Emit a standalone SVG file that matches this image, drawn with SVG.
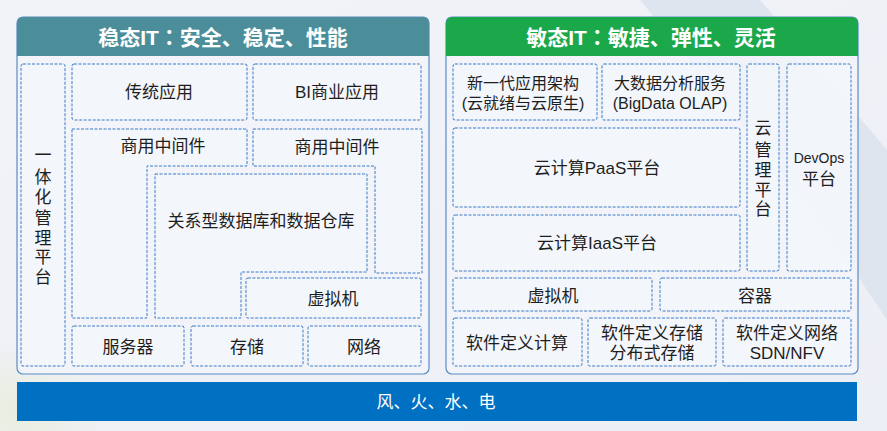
<svg xmlns="http://www.w3.org/2000/svg" width="887" height="431" viewBox="0 0 887 431">
<defs>
<linearGradient id="bg" x1="0" y1="0" x2="1" y2="1">
<stop offset="0" stop-color="#f1f3f8"/>
<stop offset="1" stop-color="#eceff5"/>
</linearGradient>
<radialGradient id="gr" cx="0.5" cy="0.5" r="0.5">
<stop offset="0" stop-color="#e9eedf"/>
<stop offset="1" stop-color="#e9eedf" stop-opacity="0"/>
</radialGradient>
<style>
.panel{fill:#f2f5fa;fill-opacity:0.85;stroke:#5b8cc8;stroke-width:1.2}
.box{fill:#f4f6fb;fill-opacity:0.7;stroke:#3a7bc6;stroke-width:1;stroke-dasharray:3 1.5}
.t{font-family:"Liberation Sans","Noto Sans CJK SC",sans-serif;font-size:17px;fill:#1e1e1e;text-anchor:middle}
.s{font-size:16px}
.h{font-family:"Liberation Sans","Noto Sans CJK SC",sans-serif;font-size:21px;font-weight:bold;fill:#ffffff;text-anchor:middle}
.c{font-family:"Noto Sans CJK TC",sans-serif}
</style>
</defs>
<rect x="0" y="0" width="887" height="431" fill="url(#bg)"/>
<polygon points="640,0 760,0 887,150 887,320 820,220" fill="#d9e0ed" opacity="0.7"/>
<ellipse cx="20" cy="410" rx="90" ry="70" fill="url(#gr)"/>

<g id="stable">
<rect class="panel" x="17" y="17" width="412" height="357" rx="6"/>
<path d="M17,56 V23 a6,6 0 0 1 6,-6 H423 a6,6 0 0 1 6,6 V56 Z" fill="#4b8e99"/>
<text class="h" x="223" y="45">稳态IT<tspan class="c">：</tspan>安全、稳定、性能</text>
</g>
<g id="stable-mgmt">
<rect class="box" x="21" y="64" width="44" height="302" rx="2"/>
<text class="t" x="43" y="161">一</text>
<text class="t" x="43" y="183">体</text>
<text class="t" x="43" y="203">化</text>
<text class="t" x="43" y="224">管</text>
<text class="t" x="43" y="244">理</text>
<text class="t" x="43" y="263">平</text>
<text class="t" x="43" y="283">台</text>
</g>
<g id="trad-app">
<rect class="box" x="72" y="64" width="175" height="56" rx="2"/>
<text class="t" x="159" y="98">传统应用</text>
</g>
<g id="bi-app">
<rect class="box" x="253" y="64" width="168" height="56" rx="2"/>
<text class="t" x="337" y="98">BI商业应用</text>
</g>
<g id="mw-left">
<path class="box" d="M72,129 H247 V166 H147 V318 H72 Z"/>
<text class="t" x="163" y="152">商用中间件</text>
</g>
<g id="mw-right">
<path class="box" d="M253,129 H422 V273 H375 V166 H253 Z"/>
<text class="t" x="337" y="153">商用中间件</text>
</g>
<g id="db">
<path class="box" d="M155,174 H367 V272 H241 V318 H155 Z"/>
<text class="t" x="261" y="227">关系型数据库和数据仓库</text>
</g>
<g id="vm-left">
<rect class="box" x="246" y="278" width="175" height="40" rx="2"/>
<text class="t" x="333" y="305">虚拟机</text>
</g>
<g id="server">
<rect class="box" x="72" y="326" width="112" height="40" rx="2"/>
<text class="t" x="128" y="353">服务器</text>
</g>
<g id="storage">
<rect class="box" x="191" y="326" width="112" height="40" rx="2"/>
<text class="t" x="247" y="353">存储</text>
</g>
<g id="network">
<rect class="box" x="308" y="326" width="113" height="40" rx="2"/>
<text class="t" x="364" y="353">网络</text>
</g>

<g id="agile">
<rect class="panel" x="446" y="17" width="412" height="357" rx="6"/>
<path d="M446,56 V23 a6,6 0 0 1 6,-6 H852 a6,6 0 0 1 6,6 V56 Z" fill="#1aa84a"/>
<text class="h" x="651" y="45">敏态IT<tspan class="c">：</tspan>敏捷、弹性、灵活</text>
</g>
<g id="new-arch">
<rect class="box" x="453" y="64" width="144" height="56" rx="2"/>
<text class="t s" x="523" y="89">新一代应用架构</text>
<text class="t s" x="523" y="109">(云就绪与云原生)</text>
</g>
<g id="bigdata">
<rect class="box" x="602" y="64" width="138" height="56" rx="2"/>
<text class="t s" x="670" y="89">大数据分析服务</text>
<text class="t s" x="670" y="109">(BigData OLAP)</text>
</g>
<g id="cloud-mgmt">
<rect class="box" x="747" y="64" width="32" height="207" rx="2"/>
<text class="t" x="763" y="134">云</text>
<text class="t" x="763" y="156">管</text>
<text class="t" x="763" y="176">理</text>
<text class="t" x="763" y="196">平</text>
<text class="t" x="763" y="215">台</text>
</g>
<g id="devops">
<rect class="box" x="787" y="64" width="64" height="207" rx="2"/>
<text class="t" x="819" y="163" style="font-size:14px">DevOps</text>
<text class="t" x="819" y="185">平台</text>
</g>
<g id="paas">
<rect class="box" x="453" y="128" width="287" height="79" rx="2"/>
<text class="t" x="597" y="174">云计算PaaS平台</text>
</g>
<g id="iaas">
<rect class="box" x="453" y="215" width="287" height="56" rx="2"/>
<text class="t" x="597" y="249">云计算IaaS平台</text>
</g>
<g id="vm-right">
<rect class="box" x="453" y="278" width="199" height="33" rx="2"/>
<text class="t" x="553" y="302">虚拟机</text>
</g>
<g id="container">
<rect class="box" x="660" y="278" width="191" height="33" rx="2"/>
<text class="t" x="755" y="302">容器</text>
</g>
<g id="sd-compute">
<rect class="box" x="453" y="318" width="129" height="48" rx="2"/>
<text class="t" x="517" y="349">软件定义计算</text>
</g>
<g id="sd-storage">
<rect class="box" x="588" y="318" width="128" height="48" rx="2"/>
<text class="t" x="652" y="339">软件定义存储</text>
<text class="t" x="652" y="359">分布式存储</text>
</g>
<g id="sd-network">
<rect class="box" x="723" y="318" width="128" height="48" rx="2"/>
<text class="t" x="787" y="339">软件定义网络</text>
<text class="t" x="787" y="359">SDN/NFV</text>
</g>

<g id="power">
<rect x="17" y="382" width="840" height="39" fill="#0070c2"/>
<text class="t" x="436" y="408" style="fill:#ffffff">风、火、水、电</text>
</g>
<g id="connectors"></g>
</svg>
